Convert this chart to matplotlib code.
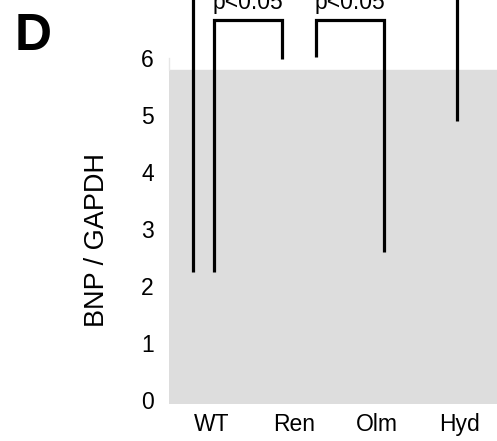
import matplotlib
matplotlib.use('Agg')
from matplotlib import pyplot as plt

plt.rcParams['font.family'] = ['Liberation Sans', 'DejaVu Sans']

# data
categories = ['WT', 'Ren', 'Olm', 'Hyd']
yticks = [0, 1, 2, 3, 4, 5, 6]
panel_top = 5.8
# vertical lines (x in category units, y low / high)
wt_line_x = -0.23
wt_line_y = [2.25, 7.5]
hyd_line_x = 2.97
hyd_line_y = [4.9, 7.5]
# significance brackets
br1_x = [0.02, 0.02, 0.85, 0.85]
br1_y = [2.25, 6.67, 6.67, 5.98]
br2_x = [1.26, 1.26, 2.08, 2.08]
br2_y = [6.02, 6.67, 6.67, 2.6]
p_text = 'p<0.05'
p_text_y = 6.86

fig = plt.figure(figsize=(4.97, 4.41), dpi=100)
ax = fig.add_axes([169/497, 37/441, 1 - 169/497, 404/441])
ax.set_xlim(-0.52, 3.45)
ax.set_ylim(-0.07, 7.02)
for s in ax.spines.values():
    s.set_visible(False)

ax.axhspan(-0.07, panel_top, color='#dddddd', zorder=0)
ax.plot([-0.52, -0.52], [panel_top, 6.0], color='#e6e6e6', lw=1, clip_on=False)

lw = 2.3
ax.plot([wt_line_x, wt_line_x], wt_line_y, color='black', lw=lw, solid_capstyle='butt')
ax.plot([hyd_line_x, hyd_line_x], hyd_line_y, color='black', lw=lw, solid_capstyle='butt')
ax.plot(br1_x, br1_y, color='black', lw=lw, solid_capstyle='butt', solid_joinstyle='miter')
ax.plot(br2_x, br2_y, color='black', lw=lw, solid_capstyle='butt', solid_joinstyle='miter')
ax.text((br1_x[0] + br1_x[-1]) / 2, p_text_y, p_text, ha='center', va='baseline', fontsize=16.5)
ax.text((br2_x[0] + br2_x[-1]) / 2, p_text_y, p_text, ha='center', va='baseline', fontsize=16.5)

ax.set_xticks(range(len(categories)))
ax.set_xticklabels(categories, fontsize=16.5)
ax.set_yticks(yticks)
ax.set_yticklabels([str(t) for t in yticks], fontsize=16.5)
ax.tick_params(axis='both', length=0)
ax.tick_params(axis='y', pad=11)
ax.tick_params(axis='x', pad=6.5)

fig.text(97/497, 1 - 240/441, 'BNP / GAPDH', rotation=90, ha='center', va='center', fontsize=19.5)
fig.text(15/497, 1 - 50/441, 'D', fontsize=37, fontweight='bold', ha='left', va='baseline')

fig.savefig('out.png', dpi=100)
